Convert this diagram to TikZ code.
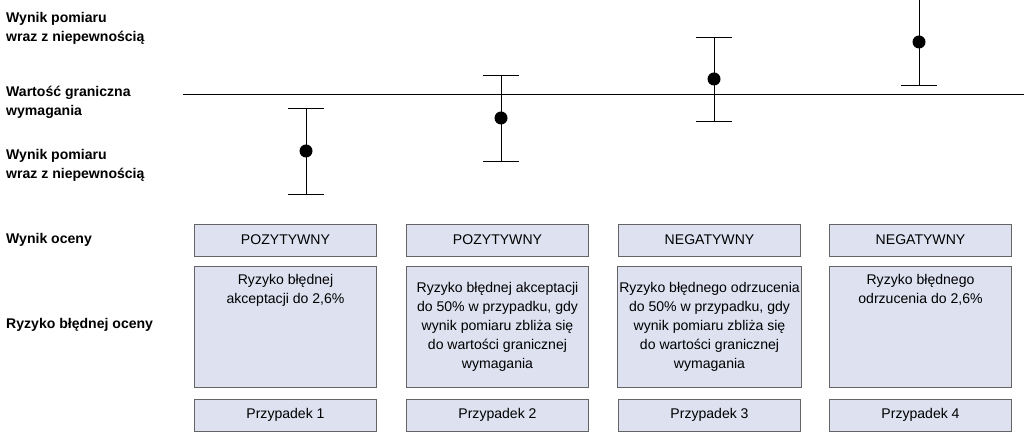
\documentclass[tikz,border=0pt]{standalone}
\usepackage{fontspec}
\setmainfont{Liberation Sans}
\definecolor{boxfill}{RGB}{221,225,240}
\definecolor{boxline}{RGB}{100,100,100}
\tikzset{
  lbl/.style={anchor=west,align=left,font=\fontsize{8}{10.8}\selectfont\bfseries},
  cell/.style={draw=boxline,fill=boxfill,minimum width=3.64cm,inner sep=1pt,
    align=center,font=\fontsize{8}{10.8}\selectfont},
  dot/.style={circle,fill=black,inner sep=0pt,minimum size=0.26cm},
}
\begin{document}
\begin{tikzpicture}[x=0.02cm,y=-0.02cm]
        \useasboundingbox (0,0) rectangle (1024,438);
        % left labels
        \node (l1) [lbl] at (0,28) {Wynik pomiaru\\wraz z niepewnością};
        \node (l2) [lbl] at (0,102) {Wartość graniczna\\wymagania};
        \node (l3) [lbl] at (0,165) {Wynik pomiaru\\wraz z niepewnością};
        \node (l4) [lbl] at (0,240) {Wynik oceny};
        \node (l5) [lbl] at (0,325) {Ryzyko błędnej oceny};
        % limit line
        \coordinate (g0) at (183,94);
        \coordinate (g1) at (1024,94);
        \draw (g0) -- (g1);
        % measurement results
        \foreach \i/\x/\y/\u in {1/306/151/43, 2/501/118/43, 3/714/79/42, 4/919/42/43} {
                \coordinate (t\i) at (\x,\y-\u);
                \coordinate (b\i) at (\x,\y+\u);
                \draw (t\i) -- (b\i);
                \draw ([xshift=-10]t\i) -- ([xshift=10]t\i);
                \draw ([xshift=-10]b\i) -- ([xshift=10]b\i);
                \node (m\i) [dot] at (\x,\y) {};
        }
        % boxes
        \foreach \i/\x/\w in {1/285.5/POZYTYWNY, 2/497.5/POZYTYWNY, 3/709.5/NEGATYWNY, 4/920.5/NEGATYWNY} {
                \node (w\i) [cell,minimum height=0.64cm] at (\x,240) {\w};
                \node (p\i) [cell,minimum height=0.64cm] at (\x,415) {Przypadek \i};
        }
        \node (r1) [cell,minimum height=2.42cm,anchor=north,text depth=1.5cm] at (285.5,266) {Ryzyko błędnej\\akceptacji do 2,6\%};
        \node (r2) [cell,minimum height=2.42cm,anchor=north] at (497.5,266) {Ryzyko błędnej akceptacji\\do 50\% w przypadku, gdy\\wynik pomiaru zbliża się\\do wartości granicznej\\wymagania};
        \node (r3) [cell,minimum height=2.42cm,anchor=north] at (709.5,266) {Ryzyko błędnego odrzucenia\\do 50\% w przypadku, gdy\\wynik pomiaru zbliża się\\do wartości granicznej\\wymagania};
        \node (r4) [cell,minimum height=2.42cm,anchor=north,text depth=1.5cm] at (920.5,266) {Ryzyko błędnego\\odrzucenia do 2,6\%};
\end{tikzpicture}
\end{document}
